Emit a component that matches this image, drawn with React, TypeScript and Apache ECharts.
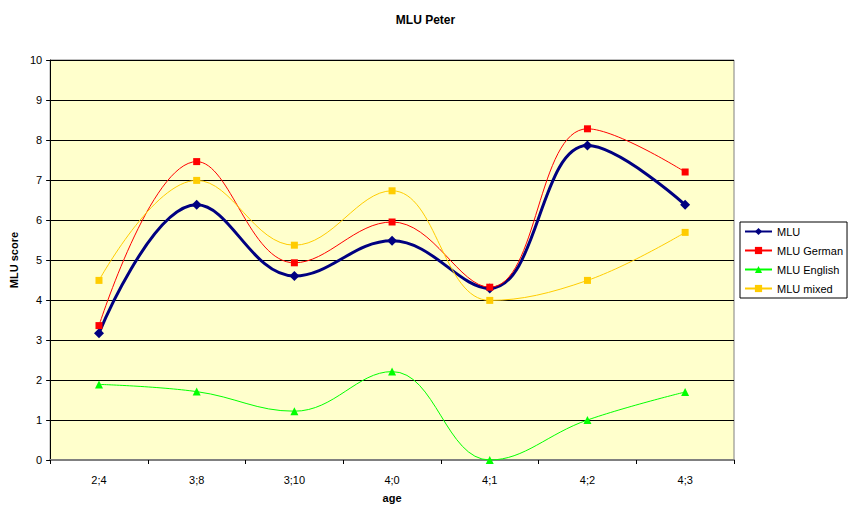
import React, { useEffect, useRef } from "react";
import * as echarts from "echarts";

const categories = ["2;4", "3;8", "3;10", "4;0", "4;1", "4;2", "4;3"];
const mlu = [3.17, 6.38, 4.6, 5.48, 4.29, 7.86, 6.38];
const mluGerman = [3.36, 7.46, 4.93, 5.95, 4.32, 8.28, 7.2];
const mluEnglish = [1.89, 1.71, 1.22, 2.21, 0, 1.0, 1.7];
const mluMixed = [4.49, 6.99, 5.37, 6.73, 3.99, 4.49, 5.69];

const FONT = "Liberation Sans, Arial, sans-serif";

export default function App() {
  const ref = useRef<HTMLDivElement>(null);
  useEffect(() => {
    document.body.style.margin = "0";
    if (!ref.current) return;
    const chart = echarts.init(ref.current, undefined, { renderer: "svg" });
    const mk = (name: string, data: number[], color: string, symbol: string, size: number, width: number) => ({
      name,
      type: "line",
      data,
      smooth: 0.4,
      symbol,
      symbolSize: size,
      showSymbol: true,
      lineStyle: { color, width },
      itemStyle: { color, borderWidth: 0 },
      emphasis: { disabled: true },
    });
    chart.setOption({
      animation: false,
      backgroundColor: "#ffffff",
      textStyle: { fontFamily: FONT },
      title: {
        text: "MLU Peter",
        left: "center",
        top: 9,
        textStyle: { fontFamily: FONT, fontSize: 12, fontWeight: "bold", color: "#000" },
      },
      legend: {
        orient: "vertical",
        left: 740,
        top: 222,
        itemWidth: 27,
        itemHeight: 9,
        itemGap: 8,
        padding: [4, 4, 4, 4],
        borderColor: "#000",
        borderWidth: 1,
        textStyle: { fontFamily: FONT, fontSize: 11, color: "#000" },
        data: ["MLU", "MLU German", "MLU English", "MLU mixed"],
      },
      grid: {
        left: 50,
        top: 60,
        right: 117,
        bottom: 48,
        show: true,
        backgroundColor: "#FFFFCC",
        borderColor: "#808080",
        borderWidth: 1,
      },
      xAxis: {
        type: "category",
        data: categories,
        boundaryGap: true,
        name: "age",
        nameLocation: "middle",
        nameGap: 32,
        nameTextStyle: { fontFamily: FONT, fontSize: 11, fontWeight: "bold", color: "#000" },
        axisLine: { lineStyle: { color: "#808080", width: 2 } },
        axisTick: { show: true, length: 4, lineStyle: { color: "#000" } },
        axisLabel: { fontFamily: FONT, fontSize: 11, color: "#000", margin: 14 },
      },
      yAxis: {
        type: "value",
        min: 0,
        max: 10,
        interval: 1,
        name: "MLU score",
        nameLocation: "middle",
        nameGap: 28,
        nameTextStyle: { fontFamily: FONT, fontSize: 11, fontWeight: "bold", color: "#000" },
        axisLine: { show: true, lineStyle: { color: "#000", width: 1 } },
        axisTick: { show: true, length: 4, lineStyle: { color: "#000" } },
        axisLabel: { fontFamily: FONT, fontSize: 11, color: "#000", margin: 8 },
        splitLine: { show: true, lineStyle: { color: "#000", width: 1 } },
      },
      series: [
        mk("MLU", mlu, "#000080", "diamond", 10, 3),
        mk("MLU German", mluGerman, "#FF0000", "rect", 7, 1),
        mk("MLU English", mluEnglish, "#00FF00", "triangle", 8, 1),
        mk("MLU mixed", mluMixed, "#FFCC00", "rect", 7, 1),
      ],
    });
    return () => chart.dispose();
  }, []);
  return <div ref={ref} style={{ width: 851, height: 508 }} />;
}
